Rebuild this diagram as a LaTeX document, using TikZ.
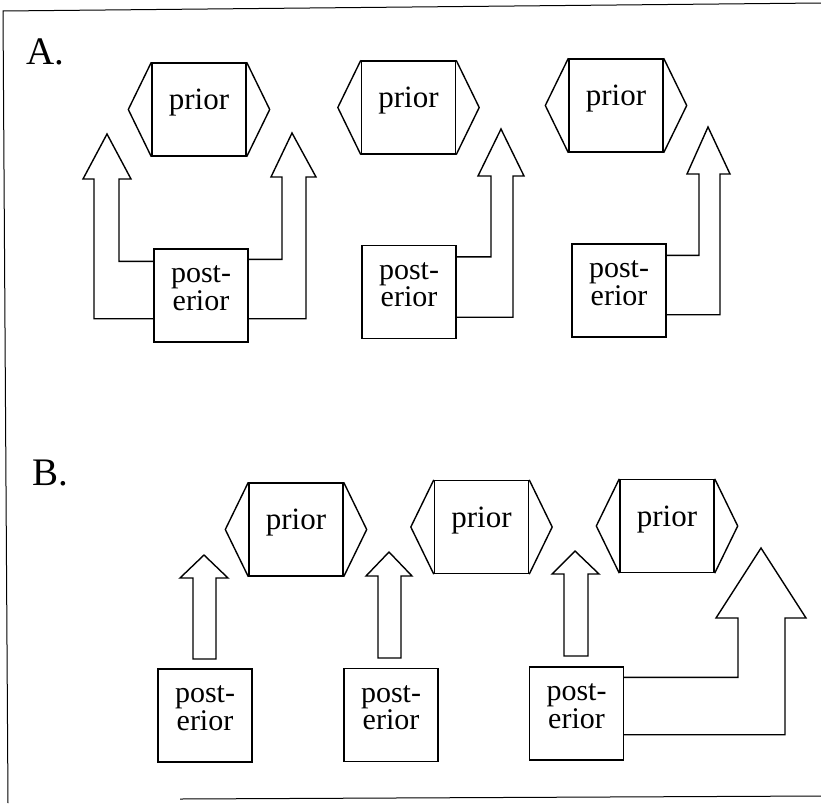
\documentclass[tikz,border=0pt]{standalone}
\usepackage{fontspec}
\setmainfont{Liberation Serif}
\usetikzlibrary{calc}
\begin{document}
\begin{tikzpicture}[x=1pt,y=-1pt, line width=1.4pt, line join=miter,
  priorbox/.style={draw, minimum width=94pt, minimum height=93pt, inner sep=0pt,
    font=\fontsize{31}{31}\selectfont, text height=0pt, text depth=0pt},
  postbox/.style={draw, minimum width=94pt, minimum height=93pt, inner sep=0pt},
  ptext/.style={font=\fontsize{30}{30}\selectfont, anchor=base, inner sep=0pt,
    text height=0.5em, text depth=0pt},
  biglabel/.style={font=\fontsize{39}{39}\selectfont, anchor=base west, inner sep=0pt},
  fatarrow/.style={draw},
  frameline/.style={line width=1pt}]
\useasboundingbox (0,0) rectangle (821,803);

% frame
\draw[frameline] (821,3) -- (3,11) -- (8,803);
\draw[frameline] (180,799) -- (821,796);

% labels
\node[biglabel] (labA) at (26,64) {A.};
\node[biglabel] (labB) at (32,485) {B.};

% prior boxes
\node[priorbox] (p1) at (199,109.5) {prior};
\node[priorbox] (p2) at (408.5,107.5) {prior};
\node[priorbox] (p3) at (616,105.5) {prior};
\node[priorbox] (pb1) at (296,529.5) {prior};
\node[priorbox] (pb2) at (481.5,527) {prior};
\node[priorbox] (pb3) at (667,526) {prior};
\foreach \n in {p1,p2,p3,pb1,pb2,pb3}{
  \draw (\n.north west) -- ($(\n.west)+(-23,0)$) -- (\n.south west);
  \draw (\n.north east) -- ($(\n.east)+(23,0)$) -- (\n.south east);
}

% posterior boxes
\node[postbox] (q1) at (201,295.5) {};
\node[postbox] (q2) at (409,292) {};
\node[postbox] (q3) at (619,290.5) {};
\node[postbox] (r1) at (205,715.5) {};
\node[postbox] (r2) at (391,715) {};
\node[postbox] (r3) at (576.5,713.5) {};
\foreach \n in {q1,q2,q3,r1,r2,r3}{
  \node[ptext] at ($(\n.center)+(0,-13)$) {post-};
  \node[ptext] at ($(\n.center)+(0,14.5)$) {erior};
}

% A arrows
\draw[fatarrow] ($(q1.south west)+(0,-24)$) -| (94,179) -- (83,179) -- (107,134)
  -- (131,179) -- (119,179) |- ($(q1.north west)+(0,13)$);
\draw[fatarrow] ($(q1.north east)+(0,11)$) -| (282,177) -- (271,177) -- (292,133)
  -- (316,177) -- (306,177) |- ($(q1.south east)+(0,-24)$);
\draw[fatarrow] ($(q2.north east)+(0,12)$) -| (491,176) -- (478,176) -- (501,129)
  -- (524,176) -- (513,176) |- ($(q2.south east)+(0,-22)$);
\draw[fatarrow] ($(q3.north east)+(0,12)$) -| (699,174) -- (687,174) -- (708,127)
  -- (730,174) -- (720,174) |- ($(q3.south east)+(0,-23)$);

% B arrows
\draw[fatarrow] (193,659) -- (193,578) -- (180,578) -- (204,555) -- (228,578)
  -- (216,578) -- (216,659) -- cycle;
\draw[fatarrow] (378,658) -- (378,576) -- (366,576) -- (389,552) -- (412,576)
  -- (401,576) -- (401,658) -- cycle;
\draw[fatarrow] (564,656) -- (564,574) -- (552,574) -- (575,551) -- (599,574)
  -- (588,574) -- (588,656) -- cycle;
\draw[fatarrow] ($(r3.north east)+(0,11)$) -| (738,618) -- (716,618) -- (761,548)
  -- (806,618) -- (785,618) |- ($(r3.south east)+(0,-26)$);
\end{tikzpicture}
\end{document}
